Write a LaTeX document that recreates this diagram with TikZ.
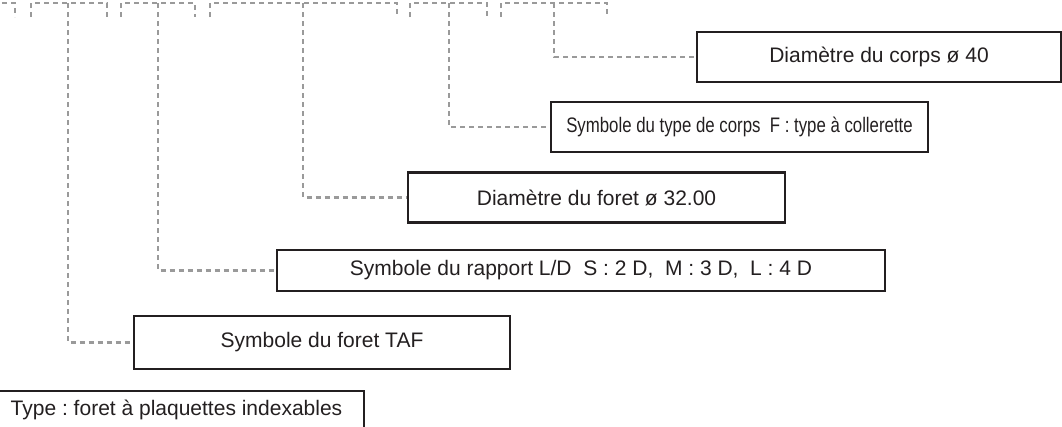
\documentclass[tikz,border=0pt]{standalone}
\usepackage{fontspec}
\setmainfont{Liberation Sans}
\newfontfamily\narrowsans[FakeStretch=0.8]{Liberation Sans}
\usepackage[dvipsnames,svgnames]{xcolor}
\usepackage{tkz-euclide}
\definecolor{leadgray}{HTML}{9A9A9A}
\definecolor{boxblack}{HTML}{231F20}
\tikzset{
  label box/.style = {draw=boxblack, line width=2.6pt, inner sep=0pt, text=boxblack,
                      minimum height=50pt, font=\fontsize{21}{25}\selectfont},
  lead/.style      = {leadgray, line width=2.2pt, dash pattern=on 5pt off 4pt}
}

\begin{document}
\frenchspacing
\begin{tikzpicture}[x=1pt,y=-1pt]
  \useasboundingbox (0,0) rectangle (1062,426);
  \clip (0,0) rectangle (1062,426);
  % brackets under the code (cut at the top)
  \tkzDefPoints{-20/3/A1,15/3/A2,31/3/B1,107/3/B2,121/3/C1,195/3/C2,
                210/3/D1,397/3/D2,410/3/E1,487/3/E2,501/3/F1,607/3/F2}
  \tkzDefPoints{68/3/mB,158/3/mC,303/3/mD,449/3/mE,554/3/mF}
  \foreach \p in {A,B,C,D,E,F}
    \draw[lead] ([yshift=-14pt]\p1) -- (\p1) -- (\p2) -- ([yshift=-14pt]\p2);
  % labels
  \node[label box, minimum width=364] (corps) at (879,57) {Diamètre du corps ø 40};
  \node[label box, minimum width=377, font=\narrowsans\fontsize{21}{25}\selectfont]
    (typecorps) at (739.5,127) {Symbole du type de corps\ \ F : type à collerette};
  \node[label box, minimum width=377] (diam) at (596.5,197.5) {Diamètre du foret ø 32.00};
  \node[label box, minimum width=608, minimum height=41pt] (rapport) at (581,270.5)
    {Symbole du rapport L/D\ \ S : 2 D,\ \ M : 3 D,\ \ L : 4 D};
  \node[label box, minimum width=376, minimum height=53pt] (taf) at (322,342.5)
    {Symbole du foret TAF};
  \node[label box, minimum width=375, anchor=base, text height=24pt, text depth=30pt]
    (type) at (176.5,415) {Type : foret à plaquettes indexables};
  % leaders
  \draw[lead] (mB) |- (taf.west);
  \draw[lead] (mC) |- (rapport.west);
  \draw[lead] (mD) |- (diam.west);
  \draw[lead] (mE) |- (typecorps.west);
  \draw[lead] (mF) |- (corps.west);
\end{tikzpicture}
\end{document}
